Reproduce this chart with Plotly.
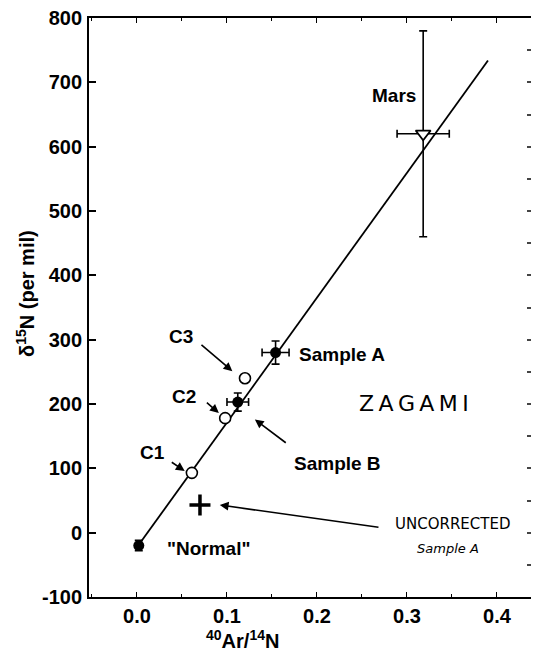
import plotly.graph_objects as go

# 40Ar/14N ratio vs nitrogen isotope composition
fit_x = [0.004, 0.39]
fit_y = [-15, 734]

normal_x, normal_y, normal_ey = [0.002], [-20], [8]
calib_x = [0.061, 0.098, 0.120]          # C1, C2, C3
calib_y = [93, 178, 240]
sampleA_x, sampleA_y, sampleA_ex, sampleA_ey = [0.154], [280], [0.015], [18]
sampleB_x, sampleB_y, sampleB_ex, sampleB_ey = [0.112], [203], [0.012], [14]
mars_x, mars_y, mars_ex, mars_ey = [0.318], [620], [0.029], [160]
uncorr_x, uncorr_y = [0.07], [43]

x_range = [-0.0533, 0.4378]
y_range = [-100, 800]
y_ticks = [-100, 0, 100, 200, 300, 400, 500, 600, 700, 800]
y_tick_text = ["-100", "0", "100", "200", "300", "400", "500", "600", "700", "800"]
x_ticks = [0.0, 0.1, 0.2, 0.3, 0.4]
x_tick_text = ["0.0", "0.1", "0.2", "0.3", "0.4"]

FONT = "Liberation Sans, Arial, sans-serif"
BLK = "black"

fig = go.Figure()

fig.add_trace(go.Scatter(x=fit_x, y=fit_y, mode="lines",
                         line=dict(color=BLK, width=1.8)))

err = dict(type="data", color=BLK, thickness=1.6, width=4)

fig.add_trace(go.Scatter(x=normal_x, y=normal_y, mode="markers",
                         marker=dict(size=11, color=BLK),
                         error_y=dict(array=normal_ey, **err)))
fig.add_trace(go.Scatter(x=calib_x, y=calib_y, mode="markers",
                         marker=dict(size=11, color="white",
                                     line=dict(color=BLK, width=1.6))))
fig.add_trace(go.Scatter(x=sampleB_x, y=sampleB_y, mode="markers",
                         marker=dict(size=11, color=BLK),
                         error_x=dict(array=sampleB_ex, **err),
                         error_y=dict(array=sampleB_ey, **err)))
fig.add_trace(go.Scatter(x=sampleA_x, y=sampleA_y, mode="markers",
                         marker=dict(size=11, color=BLK),
                         error_x=dict(array=sampleA_ex, **err),
                         error_y=dict(array=sampleA_ey, **err)))
fig.add_trace(go.Scatter(x=mars_x, y=mars_y, mode="markers",
                         marker=dict(size=13, symbol="triangle-down", color="white",
                                     line=dict(color=BLK, width=1.8)),
                         error_x=dict(array=mars_ex, **err),
                         error_y=dict(array=mars_ey, **err)))
fig.add_trace(go.Scatter(x=uncorr_x, y=uncorr_y, mode="markers",
                         marker=dict(size=15, symbol="cross-thin",
                                     line=dict(color=BLK, width=3.5))))
# right-hand tick marks
fig.add_trace(go.Scatter(x=[], y=[], yaxis="y2", showlegend=False))

lab = dict(family=FONT, size=19, color=BLK)
ann = []


def text(x, y, s, xanchor="center", font=lab, angle=0, ref="data"):
    xr, yr = ("x", "y") if ref == "data" else ("paper", "paper")
    ann.append(dict(x=x, y=y, xref=xr, yref=yr, text=s, showarrow=False,
                    xanchor=xanchor, yanchor="middle", font=font, textangle=angle))


def arrow(x0, y0, x1, y1):
    ann.append(dict(x=x1, y=y1, ax=x0, ay=y0, xref="x", yref="y",
                    axref="x", ayref="y", text="", showarrow=True,
                    arrowhead=2, arrowsize=1.1, arrowwidth=1.6, arrowcolor=BLK))


text(0.312, 680, "<b>Mars</b>", xanchor="right")
text(0.178, 277, "<b>Sample A</b>", xanchor="left")
text(0.172, 108, "<b>Sample B</b>", xanchor="left")
text(0.049, 305, "<b>C3</b>")
text(0.052, 212, "<b>C2</b>")
text(0.017, 124, "<b>C1</b>")
text(0.031, -25, "<b>\"Normal\"</b>", xanchor="left")
arrow(0.070, 294, 0.106, 251)
arrow(0.076, 204, 0.091, 186)
arrow(0.037, 111, 0.053, 96)
arrow(0.167, 138, 0.131, 176)
arrow(0.270, 8, 0.092, 43)

hand = dict(family="DejaVu Sans, sans-serif", color=BLK)
text(0.245, 201, "Z\u2009A\u2009G\u2009A\u2009M\u2009I", xanchor="left",
     font=dict(size=22, **hand))
text(0.284, 14, "UNCORRECTED", xanchor="left", font=dict(size=15, **hand))
text(0.309, -25, "<i>Sample A</i>", xanchor="left", font=dict(size=13, **hand))

bold = dict(family=FONT, size=20, color=BLK)
text(0.348, -0.074, "<b><sup>40</sup>Ar/<sup>14</sup>N</b>", font=bold, ref="paper")
text(-0.145, 0.525, "<b>δ<sup>15</sup>N (per mil)</b>", font=bold, angle=-90,
     ref="paper")

tickfont = dict(family="Liberation Sans, Arial, sans-serif", size=20, color=BLK,
                weight="bold")

fig.update_layout(
    width=538, height=653,
    margin=dict(l=89, r=7, t=16, b=56),
    paper_bgcolor="white", plot_bgcolor="white",
    showlegend=False,
    annotations=ann,
    xaxis=dict(range=x_range, tickvals=x_ticks, ticktext=x_tick_text,
               showgrid=False, zeroline=False, showline=True, linecolor=BLK,
               linewidth=1.8, mirror="ticks", ticks="inside", ticklen=5,
               tickwidth=1.4, tickcolor=BLK,
               minor=dict(dtick=0.05, ticks="inside", ticklen=3, tickcolor=BLK),
               tickfont=tickfont),
    yaxis=dict(range=y_range, tickvals=y_ticks, ticktext=y_tick_text,
               showgrid=False, zeroline=False,
               showline=True, linecolor=BLK, linewidth=1.8, ticks="inside",
               ticklen=7, tickwidth=1.6, tickcolor=BLK, ticklabelstandoff=1,
               tickfont=tickfont),
    yaxis2=dict(range=y_range, overlaying="y", side="right", dtick=50,
                showgrid=False, zeroline=False, showline=False,
                ticks="inside", ticklen=4, tickwidth=2, tickcolor="#444",
                showticklabels=False),
)

fig.write_html("out.html")
